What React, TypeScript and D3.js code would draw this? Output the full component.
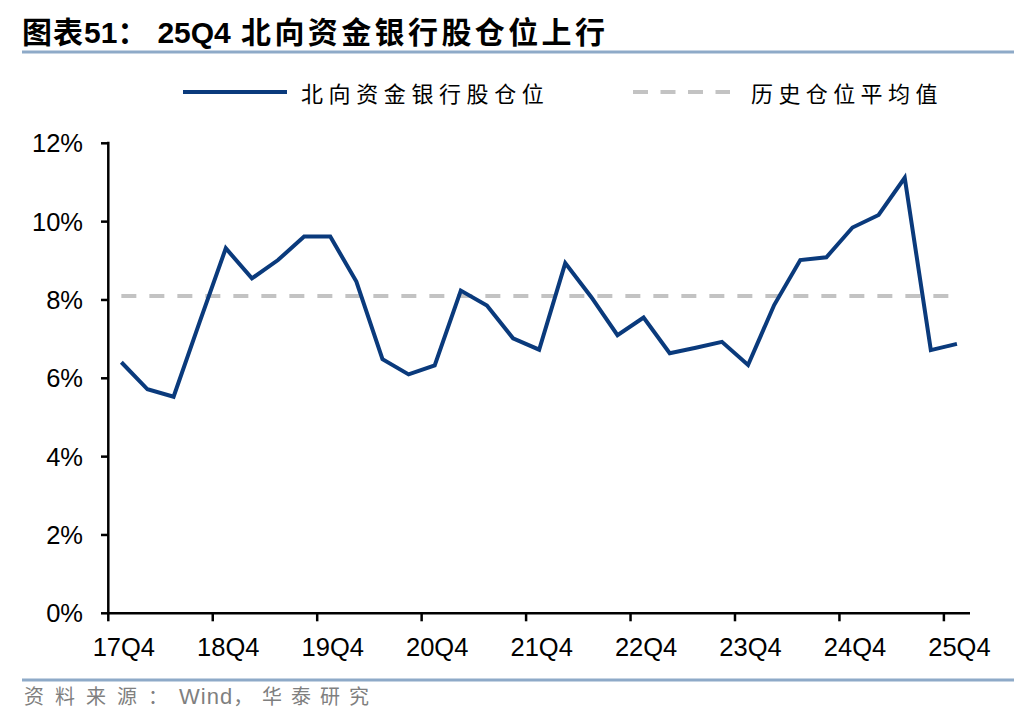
import React from "react";
import * as d3 from "d3";

const categories: string[] = [
  "17Q4", "18Q1", "18Q2", "18Q3", "18Q4", "19Q1", "19Q2", "19Q3", "19Q4",
  "20Q1", "20Q2", "20Q3", "20Q4", "21Q1", "21Q2", "21Q3", "21Q4",
  "22Q1", "22Q2", "22Q3", "22Q4", "23Q1", "23Q2", "23Q3", "23Q4",
  "24Q1", "24Q2", "24Q3", "24Q4", "25Q1", "25Q2", "25Q3", "25Q4",
];

const positionValues: number[] = [
  6.41, 5.72, 5.53, 7.44, 9.32, 8.55, 9.02, 9.62, 9.62,
  8.47, 6.49, 6.10, 6.33, 8.24, 7.86, 7.02, 6.73,
  8.94, 8.07, 7.10, 7.55, 6.64, 6.78, 6.93, 6.34,
  7.87, 9.02, 9.09, 9.85, 10.17, 11.12, 6.72, 6.88,
];

const averageValue = 8.1;

const yTicks: number[] = [0, 2, 4, 6, 8, 10, 12];
const xTickLabels: string[] = ["17Q4", "18Q4", "19Q4", "20Q4", "21Q4", "22Q4", "23Q4", "24Q4", "25Q4"];

const seriesName = "北向资金银行股仓位";
const averageName = "历史仓位平均值";
const titleParts: string[] = ["图表", "51", "：", "25Q4", " 北向资金银行股仓位上行"];

const W = 1036;
const H = 728;
const LINE_COLOR = "#0a3a7c";
const AVG_COLOR = "#c3c3c3";
const RULE_COLOR = "#8eaac8";
const LATIN = "'Liberation Sans', Arial, 'Noto Sans CJK SC', sans-serif";
const CJK = "'Noto Sans CJK SC', 'Liberation Sans', sans-serif";

export default function App() {
  const x = d3.scaleBand<string>().domain(categories).range([108.3, 970]).paddingInner(0).paddingOuter(0);
  const bw = x.bandwidth();
  const cx = (c: string) => (x(c) as number) + bw / 2;
  const y = d3.scaleLinear().domain([0, 12]).range([613.3, 143.3]);

  const line = d3
    .line<number>()
    .x((_, i) => cx(categories[i]))
    .y((d) => y(d));

  const avgPath = d3
    .line<string>()
    .x((c) => cx(c))
    .y(() => y(averageValue))([categories[0], categories[categories.length - 1]]);

  const tickCats = categories.filter((_, i) => i % 4 === 0);

  return (
    <svg width={W} height={H} style={{ position: "absolute", left: 0, top: 0, background: "#fff" }}>
      <rect x={0} y={0} width={W} height={H} fill="#fff" />
      {/* title */}
      <text x={22} y={43} fontFamily={CJK} fontWeight="bold" fontSize={30} fill="#000">
        <tspan letterSpacing={1}>{titleParts[0]}</tspan>
        <tspan fontFamily={LATIN} letterSpacing={0}>{titleParts[1]}</tspan>
        <tspan letterSpacing={10}>{titleParts[2]}</tspan>
        <tspan fontFamily={LATIN} letterSpacing={0}>{titleParts[3]}</tspan>
        <tspan letterSpacing={3.4}>{titleParts[4]}</tspan>
      </text>
      <line x1={22} x2={1014} y1={52} y2={52} stroke={RULE_COLOR} strokeWidth={3} />

      {/* legend */}
      <line x1={183} x2={287} y1={92} y2={92} stroke={LINE_COLOR} strokeWidth={4} />
      <text x={301} y={92} dominantBaseline="central" fontFamily={CJK} fontSize={22} letterSpacing={5.6} fill="#000">
        {seriesName}
      </text>
      <line x1={633} x2={730} y1={92} y2={92} stroke={AVG_COLOR} strokeWidth={4} strokeDasharray="15 12.5" />
      <text x={751} y={92} dominantBaseline="central" fontFamily={CJK} fontSize={22} letterSpacing={5.4} fill="#000">
        {averageName}
      </text>

      {/* y axis */}
      <line x1={108.3} x2={108.3} y1={y(12) - 1.5} y2={y(0) + 1} stroke="#000" strokeWidth={2.5} />
      {yTicks.map((t) => (
        <g key={t}>
          <line x1={101} x2={108.3} y1={y(t)} y2={y(t)} stroke="#000" strokeWidth={2.5} />
          <text x={83} y={y(t) + 9} textAnchor="end" fontFamily={LATIN} fontSize={25.5} fill="#000">
            {`${t}%`}
          </text>
        </g>
      ))}

      {/* x axis */}
      <line x1={107} x2={970} y1={y(0)} y2={y(0)} stroke="#000" strokeWidth={2.5} />
      {tickCats.map((c, k) => (
        <g key={c}>
          <line x1={x(c) as number} x2={x(c) as number} y1={y(0)} y2={y(0) + 8} stroke="#000" strokeWidth={2.5} />
          <text x={cx(c) + 2.5} y={656} textAnchor="middle" fontFamily={LATIN} fontSize={25.5} fill="#000">
            {xTickLabels[k]}
          </text>
        </g>
      ))}

      {/* average line */}
      <path d={avgPath || ""} fill="none" stroke={AVG_COLOR} strokeWidth={4} strokeDasharray="15 13" />

      {/* series line */}
      <path d={line(positionValues) || ""} fill="none" stroke={LINE_COLOR} strokeWidth={4} strokeLinejoin="miter" />

      {/* bottom */}
      <line x1={22} x2={1014} y1={680} y2={680} stroke={RULE_COLOR} strokeWidth={3} />
      <text x={24} y={704} fontFamily={CJK} fontSize={20} fill="#7f7f7f">
        <tspan letterSpacing={11}>资料来源：</tspan>
        <tspan fontFamily={LATIN} fontSize={22} letterSpacing={1}>Wind</tspan>
        <tspan letterSpacing={9}>，华泰研究</tspan>
      </text>
    </svg>
  );
}
